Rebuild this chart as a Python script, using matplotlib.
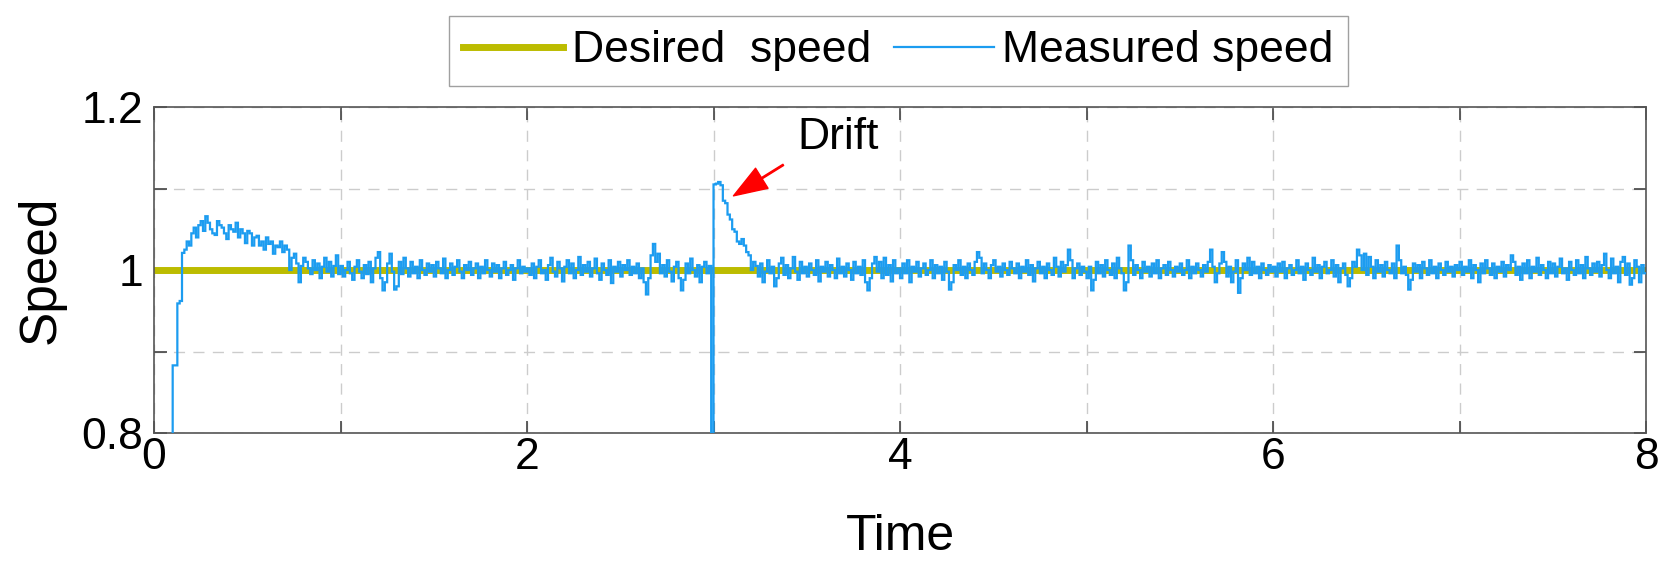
import numpy as np
import matplotlib.pyplot as plt

plt.rcParams['font.family'] = ['Liberation Sans', 'DejaVu Sans']

# desired speed (constant set point)
desired_t = [0, 8]
desired_v = [1.0, 1.0]

# measured speed, one value per 0.0125 s (stair signal)
measured_v = [
    # 0 - 1 s
    0.70, 0.70, 0.70, 0.70, 0.70, 0.70, 0.70, 0.70, 0.883, 0.883,
    0.959, 0.962, 1.021, 1.025, 1.035, 1.030, 1.045, 1.052, 1.040, 1.055,
    1.060, 1.048, 1.066, 1.058, 1.050, 1.045, 1.043, 1.060, 1.055, 1.052,
    1.045, 1.038, 1.055, 1.050, 1.047, 1.058, 1.040, 1.050, 1.045, 1.033,
    1.048, 1.045, 1.030, 1.040, 1.042, 1.030, 1.035, 1.025, 1.040, 1.032,
    1.035, 1.020, 1.030, 1.028, 1.035, 1.022, 1.030, 1.025, 1.000, 1.015,
    1.020, 1.008, 0.985, 1.005, 1.015, 1.010, 1.002, 0.995, 1.012, 1.000,
    1.008, 0.990, 1.004, 1.015, 0.998, 1.010, 0.992, 1.005, 1.018, 0.995,
    # 1 - 2 s
    1.005, 0.992, 1.000, 1.010, 0.996, 0.988, 1.004, 1.012, 0.998, 0.990,
    1.006, 0.995, 1.010, 0.985, 1.002, 1.015, 1.022, 0.990, 0.975, 0.985,
    1.008, 1.020, 0.998, 0.976, 0.980, 1.010, 0.995, 1.015, 1.002, 0.992,
    1.010, 0.996, 1.004, 0.990, 1.012, 1.000, 0.994, 1.008, 0.998, 1.006,
    0.992, 1.010, 1.002, 0.996, 1.014, 0.990, 1.000, 1.008, 0.994, 1.004,
    1.012, 0.998, 0.990, 1.006, 1.000, 1.010, 0.994, 1.002, 1.008, 0.990,
    1.004, 0.996, 1.012, 1.000, 0.992, 1.008, 0.998, 1.006, 0.990, 1.002,
    1.010, 0.994, 1.000, 1.006, 0.988, 1.002, 1.012, 0.996, 1.004, 0.998,
    # 2 - 3 s
    1.002, 0.994, 1.008, 0.990, 1.004, 1.012, 0.996, 1.000, 0.988, 1.006,
    1.015, 0.998, 0.992, 1.010, 1.002, 0.986, 1.004, 1.012, 0.996, 1.008,
    0.990, 1.000, 1.016, 0.994, 1.006, 0.998, 1.010, 0.992, 1.002, 1.014,
    0.996, 0.988, 1.008, 1.000, 0.994, 1.012, 0.984, 1.004, 0.998, 1.010,
    0.992, 1.006, 1.000, 1.012, 0.994, 1.004, 0.996, 1.008, 0.990, 1.002,
    0.985, 0.970, 0.990, 1.018, 1.032, 1.010, 1.020, 0.996, 1.006, 0.992,
    1.012, 0.998, 0.986, 1.004, 1.010, 0.990, 0.975, 0.988, 1.008, 0.996,
    1.014, 1.000, 0.992, 1.006, 0.985, 1.004, 1.010, 0.996, 1.005, 0.70,
    # 3 - 4 s (drift)
    1.105, 1.106, 1.108, 1.104, 1.085, 1.082, 1.068, 1.062, 1.050, 1.047,
    1.035, 1.032, 1.038, 1.030, 1.022, 1.018, 1.000, 1.010, 1.005, 0.992,
    1.008, 0.985, 0.998, 1.012, 0.996, 1.004, 0.980, 0.990, 1.008, 1.015,
    0.994, 1.006, 0.990, 1.002, 1.016, 0.998, 0.988, 1.010, 0.996, 1.004,
    0.992, 1.008, 1.000, 0.994, 1.012, 0.986, 1.004, 0.998, 1.010, 0.992,
    1.006, 1.000, 0.990, 1.014, 0.996, 1.004, 0.992, 1.008, 1.000, 0.988,
    1.010, 0.996, 1.004, 0.994, 1.012, 0.985, 0.975, 0.990, 1.008, 1.016,
    0.998, 1.010, 0.990, 1.015, 0.994, 1.006, 0.986, 1.012, 0.996, 1.002,
    # 4 - 5 s
    0.990, 1.008, 0.996, 1.012, 0.985, 1.004, 0.998, 1.010, 0.992, 1.002,
    1.008, 0.994, 1.000, 1.012, 0.990, 1.006, 0.996, 1.004, 0.988, 1.010,
    0.998, 0.976, 0.985, 1.006, 1.000, 1.012, 0.994, 1.004, 0.990, 1.008,
    1.000, 0.994, 1.010, 1.022, 1.015, 0.996, 1.008, 1.000, 0.990, 1.006,
    1.012, 0.998, 1.004, 0.992, 1.008, 1.000, 0.994, 1.010, 1.002, 0.996,
    1.008, 0.990, 1.004, 0.998, 1.012, 0.994, 1.006, 0.986, 1.002, 1.010,
    0.996, 1.004, 0.990, 1.008, 1.000, 0.994, 1.015, 1.004, 0.992, 1.010,
    0.998, 1.006, 1.025, 1.012, 0.990, 1.002, 1.008, 0.994, 1.004, 0.998,
    # 5 - 6 s
    0.990, 1.004, 0.975, 0.988, 1.010, 0.996, 1.006, 0.992, 1.012, 1.000,
    0.994, 1.008, 0.990, 1.015, 1.002, 0.996, 0.975, 0.985, 1.030, 1.012,
    0.994, 1.006, 1.000, 0.990, 1.010, 0.998, 1.004, 0.992, 1.008, 0.996,
    1.012, 0.990, 1.002, 1.006, 0.994, 1.010, 1.000, 0.992, 1.004, 0.998,
    1.008, 0.994, 1.000, 1.012, 0.990, 1.004, 0.996, 1.008, 1.000, 0.992,
    1.006, 0.998, 1.010, 1.025, 1.004, 0.985, 0.996, 1.008, 1.022, 1.010,
    0.992, 1.004, 0.985, 0.998, 1.012, 0.972, 0.990, 1.008, 1.000, 1.015,
    0.994, 1.010, 0.996, 1.004, 0.990, 1.008, 1.000, 0.994, 1.006, 0.998,
    # 6 - 7 s
    1.004, 0.992, 1.008, 0.998, 1.010, 0.990, 1.002, 1.006, 0.994, 1.000,
    1.012, 0.996, 1.004, 0.988, 1.008, 1.000, 0.994, 1.015, 0.998, 1.006,
    0.990, 1.004, 1.010, 0.996, 1.000, 1.012, 0.992, 1.006, 0.985, 1.002,
    1.008, 0.994, 0.980, 0.990, 1.010, 1.004, 1.025, 1.018, 1.000, 1.020,
    0.994, 1.016, 1.004, 0.990, 1.012, 0.998, 1.006, 0.992, 1.010, 1.000,
    0.996, 1.008, 0.990, 1.030, 1.012, 0.996, 1.004, 0.994, 0.976, 0.988,
    1.008, 0.998, 1.006, 0.990, 1.010, 1.002, 0.994, 1.012, 0.996, 1.004,
    0.990, 1.008, 1.000, 0.994, 1.010, 0.998, 1.004, 0.992, 1.006, 1.000,
    # 7 - 8 s
    1.010, 0.994, 1.004, 0.998, 1.012, 0.990, 1.006, 1.000, 0.985, 1.008,
    0.996, 1.012, 1.002, 0.994, 1.008, 0.990, 1.004, 0.998, 1.010, 0.992,
    1.006, 1.000, 1.018, 1.010, 0.994, 1.004, 0.988, 1.008, 0.996, 1.012,
    0.990, 1.004, 0.998, 1.015, 0.994, 1.006, 1.000, 0.990, 1.010, 0.996,
    1.008, 0.992, 1.004, 1.014, 0.996, 1.002, 0.988, 1.010, 1.000, 0.994,
    1.012, 0.996, 1.006, 0.990, 1.016, 1.002, 0.994, 1.008, 0.998, 1.010,
    0.992, 1.006, 1.020, 1.000, 0.990, 1.014, 0.996, 1.004, 0.985, 1.010,
    1.016, 0.994, 1.008, 0.982, 0.990, 1.012, 1.004, 0.985, 1.006, 0.996,
]
t_end = 8.0
edges = np.linspace(0, t_end, len(measured_v) + 1)

x_ticks = [0, 1, 2, 3, 4, 5, 6, 7, 8]
x_ticklabels = ['0', '', '2', '', '4', '', '6', '', '8']
y_ticks = [0.8, 0.9, 1.0, 1.1, 1.2]
y_ticklabels = ['0.8', '', '1', '', '1.2']

drift_label = 'Drift'
drift_text_pos = (3.67, 1.163)
drift_head = (3.107, 1.091)
drift_tail = (3.374, 1.129)

fig = plt.figure(figsize=(16.67, 5.65), dpi=100)
ax = fig.add_axes([0.0924, 0.2336, 0.895, 0.577])

ax.plot(desired_t, desired_v, color='#bcbc00', lw=5, label='Desired  speed', zorder=2)
ax.stairs(measured_v, edges, baseline=None, color='#1c9cf0', lw=1.6,
          label='Measured speed', zorder=3)

ax.set_xlim(0, 8)
ax.set_ylim(0.8, 1.2)
ax.set_xticks(x_ticks)
ax.set_xticklabels(x_ticklabels)
ax.set_yticks(y_ticks)
ax.set_yticklabels(y_ticklabels)
ax.tick_params(direction='in', top=True, right=True, length=9, width=1.2,
               color='#444444', labelsize=32)
ax.tick_params(axis='x', pad=3)
ax.tick_params(axis='y', pad=8)
ax.grid(True, color='#cccccc', ls=(0, (8, 6)), lw=1)
ax.set_axisbelow(True)
for s in ax.spines.values():
    s.set_color('#555555')
    s.set_linewidth(1.2)

ax.set_xlabel('Time', fontsize=36, labelpad=26)
ax.set_ylabel('Speed', fontsize=37, labelpad=11)

ax.annotate('', xy=drift_head, xytext=drift_tail,
            arrowprops=dict(facecolor='red', edgecolor='red', width=1,
                            headwidth=17, headlength=24, shrink=0))
ax.text(drift_text_pos[0], drift_text_pos[1], drift_label, fontsize=32,
        ha='center', va='center')

fig.legend(loc='upper center', bbox_to_anchor=(0.539, 0.972), ncol=2,
           fontsize=32, frameon=True, fancybox=False, edgecolor='#888888',
           handlelength=2.25, handletextpad=0.2, columnspacing=0.5,
           borderpad=0.33, borderaxespad=0)

fig.savefig('out.png', dpi=100)
